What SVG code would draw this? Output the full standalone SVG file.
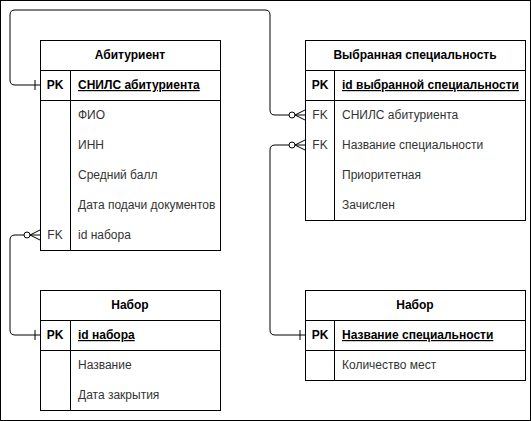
<svg xmlns="http://www.w3.org/2000/svg" width="531" height="421" viewBox="0 0 531 421">
<style>
.box{fill:#fff;stroke:#000;stroke-width:1}
.ln{stroke:#000;stroke-width:1;fill:none}
.h{font-family:"Liberation Sans",Arial,sans-serif;font-size:12px;font-weight:bold;fill:#000;text-anchor:middle}
.k{font-family:"Liberation Sans",Arial,sans-serif;font-size:12px;font-weight:bold;fill:#000;text-anchor:middle}
.pk{font-family:"Liberation Sans",Arial,sans-serif;font-size:12px;font-weight:bold;fill:#000;text-decoration:underline}
.f{font-family:"Liberation Sans",Arial,sans-serif;font-size:12px;fill:#333}
.fk{font-family:"Liberation Sans",Arial,sans-serif;font-size:12px;fill:#333;text-anchor:middle}
.c{stroke:#000;stroke-width:1;fill:none}
.o{stroke:#000;stroke-width:1;fill:#fff}
</style>
<rect x="0.5" y="0.5" width="530" height="420" fill="#fff" stroke="#000" stroke-width="1"/>
<g id="connectors">
<path class="c" d="M40,85 L15,85 Q10,85 10,80 L10,15 Q10,10 15,10 L265,10 Q270,10 270,15 L270,110 Q270,115 275,115 L305,115"/>
<path class="c" d="M35,80 L35,90"/>
<path class="c" d="M305,110 L295,115 L305,120"/>
<circle class="o" cx="292" cy="115" r="3"/>
<path class="c" d="M40,235 L15,235 Q10,235 10,240 L10,330 Q10,335 15,335 L40,335"/>
<path class="c" d="M40,230 L30,235 L40,240"/>
<circle class="o" cx="27" cy="235" r="3"/>
<path class="c" d="M35,330 L35,340"/>
<path class="c" d="M305,145 L275,145 Q270,145 270,150 L270,330 Q270,335 275,335 L305,335"/>
<path class="c" d="M305,140 L295,145 L305,150"/>
<circle class="o" cx="292" cy="145" r="3"/>
<path class="c" d="M300,330 L300,340"/>
</g>
<g id="abiturient">
<rect class="box" x="40.5" y="40.5" width="180" height="210"/>
<path class="ln" d="M40.5,70.5 H220.5 M40.5,100.5 H220.5 M70.5,70.5 V250.5"/>
<text class="h" x="130" y="59">Абитуриент</text>
<text class="k" x="55" y="89">PK</text>
<text class="pk" x="78" y="89">СНИЛС абитуриента</text>
<text class="f" x="78" y="119">ФИО</text>
<text class="f" x="78" y="149">ИНН</text>
<text class="f" x="78" y="179">Средний балл</text>
<text class="f" x="78" y="209">Дата подачи документов</text>
<text class="fk" x="55" y="239">FK</text>
<text class="f" x="78" y="239">id набора</text>
</g>
<g id="vybrannaya">
<rect class="box" x="305.5" y="40.5" width="220" height="180"/>
<path class="ln" d="M305.5,70.5 H525.5 M305.5,100.5 H525.5 M334.5,70.5 V220.5"/>
<text class="h" x="415" y="59">Выбранная специальность</text>
<text class="k" x="320" y="89">PK</text>
<text class="pk" x="342" y="89">id выбранной специальности</text>
<text class="fk" x="320" y="119">FK</text>
<text class="f" x="342" y="119">СНИЛС абитуриента</text>
<text class="fk" x="320" y="149">FK</text>
<text class="f" x="342" y="149">Название специальности</text>
<text class="f" x="342" y="179">Приоритетная</text>
<text class="f" x="342" y="209">Зачислен</text>
</g>
<g id="nabor1">
<rect class="box" x="40.5" y="290.5" width="180" height="120"/>
<path class="ln" d="M40.5,320.5 H220.5 M40.5,350.5 H220.5 M70.5,320.5 V410.5"/>
<text class="h" x="130" y="309">Набор</text>
<text class="k" x="55" y="339">PK</text>
<text class="pk" x="78" y="339">id набора</text>
<text class="f" x="78" y="369">Название</text>
<text class="f" x="78" y="399">Дата закрытия</text>
</g>
<g id="nabor2">
<rect class="box" x="305.5" y="290.5" width="220" height="90"/>
<path class="ln" d="M305.5,320.5 H525.5 M305.5,350.5 H525.5 M334.5,320.5 V380.5"/>
<text class="h" x="415" y="309">Набор</text>
<text class="k" x="320" y="339">PK</text>
<text class="pk" x="342" y="339">Название специальности</text>
<text class="f" x="342" y="369">Количество мест</text>
</g>
</svg>
